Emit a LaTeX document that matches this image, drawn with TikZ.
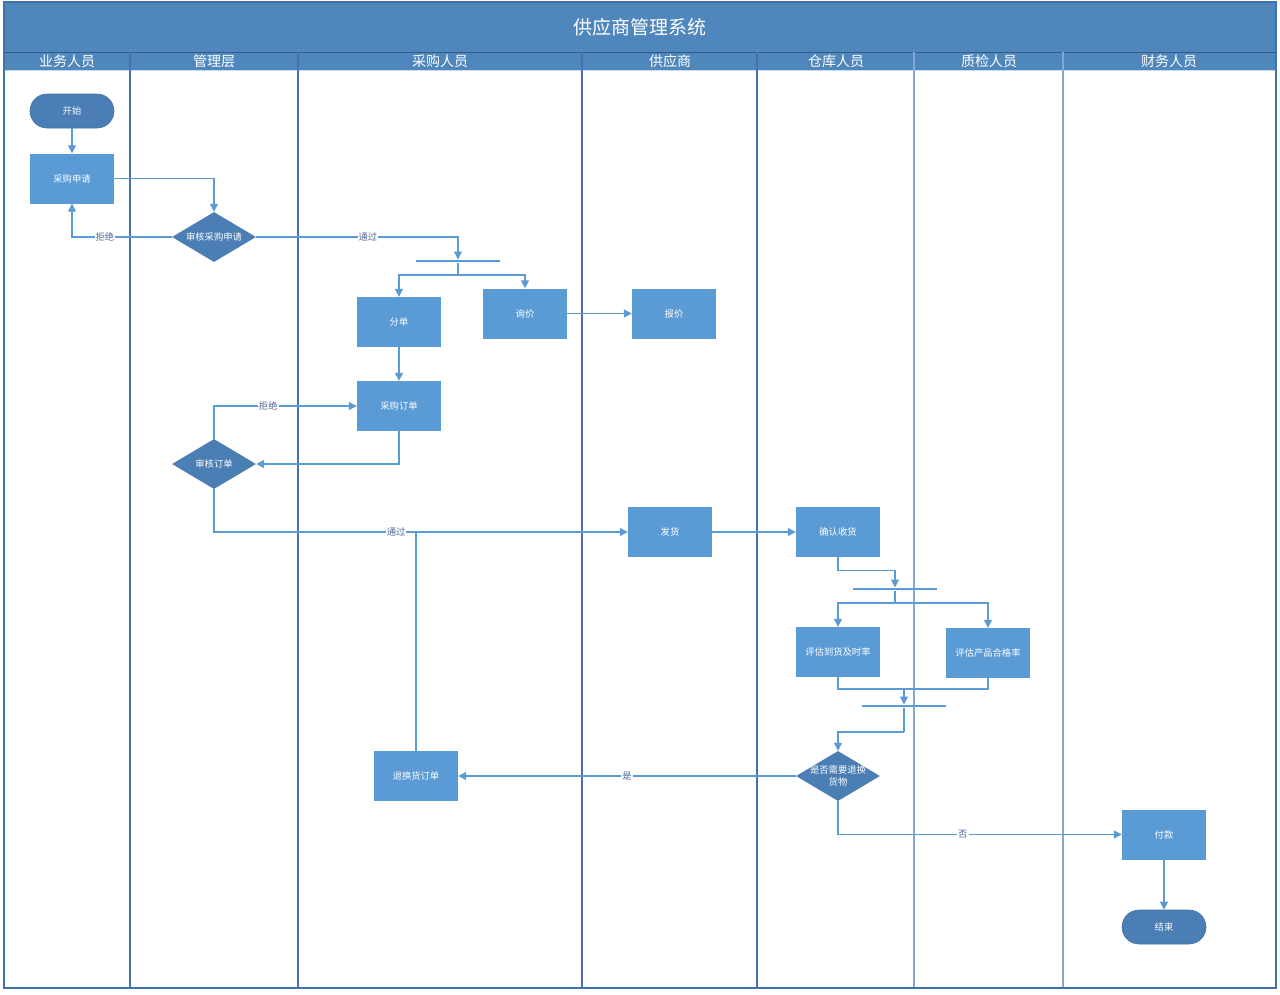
\documentclass[tikz,border=0pt]{standalone}
\usepackage{fontspec}
\newfontfamily\cjk{Noto Sans CJK SC}
\usetikzlibrary{shapes.geometric,arrows.meta}
\definecolor{band}{RGB}{79,135,189}
\definecolor{frame}{RGB}{65,113,170}
\definecolor{sep}{RGB}{68,114,176}
\definecolor{seplight}{RGB}{130,168,212}
\definecolor{boxc}{RGB}{91,155,213}
\definecolor{darkc}{RGB}{74,126,180}
\definecolor{linec}{RGB}{91,155,213}
\definecolor{lblc}{RGB}{80,105,150}
\tikzset{
  every node/.style={font=\cjk},
  procbox/.style={rectangle, fill=boxc, minimum width=84pt, minimum height=50pt, inner sep=0pt, text=white, font=\cjk\fontsize{9.3}{11}\selectfont},
  decbox/.style={diamond, fill=darkc, minimum width=84pt, minimum height=50pt, inner sep=0pt, shape aspect=1.68, text=white, align=center, font=\cjk\fontsize{9.3}{12}\selectfont},
  termbox/.style={rectangle, rounded corners=17pt, fill=darkc, draw=darkc!90!black, line width=0.6pt, minimum width=84pt, minimum height=34pt, inner sep=0pt, text=white, font=\cjk\fontsize{9.3}{11}\selectfont},
  barbox/.style={rectangle, fill=linec, minimum width=84pt, minimum height=2.6pt, inner sep=0pt},
  conn/.style={draw=linec, line width=1.3pt},
  arr/.style={conn, -{Triangle[length=8pt,width=8pt]}},
  lbl/.style={fill=white, inner sep=1pt, text=lblc, font=\cjk\fontsize{9.3}{10}\selectfont},
  hdr/.style={text=white, font=\cjk\fontsize{14}{16}\selectfont, inner sep=0pt},
  lanesep/.style={draw=sep, line width=1.2pt},
}
\begin{document}
\begin{tikzpicture}[x=1pt,y=-1pt]
\useasboundingbox (0,0) rectangle (1280,994);
% bands
\fill[band] (4,2) rectangle (1276,52);
\fill[band] (4,52) rectangle (1276,70);
\draw[draw=frame!80!black, line width=0.8pt] (4,52) -- (1276,52);
\draw[draw=white!70!band, line width=1pt] (4,70) -- (1276,70);
% lane separators
\foreach \x in {130,298,582,757} {\draw[lanesep] (\x,52) -- (\x,988);}
\foreach \x in {914,1063} {\draw[lanesep, draw=seplight, line width=1.5pt] (\x,52) -- (\x,988);}
\draw[draw=frame, line width=1.6pt] (4,2) rectangle (1276,988);
% title and headers
\node[text=white, font=\cjk\fontsize{19}{22}\selectfont, inner sep=0pt] (title) at (640,27) {供应商管理系统};
\node[hdr] (h1) at (67,61) {业务人员};
\node[hdr] (h2) at (214,61) {管理层};
\node[hdr] (h3) at (440,61) {采购人员};
\node[hdr] (h4) at (670,61) {供应商};
\node[hdr] (h5) at (836,61) {仓库人员};
\node[hdr] (h6) at (989,61) {质检人员};
\node[hdr] (h7) at (1169,61) {财务人员};
% nodes
\node[termbox] (start) at (72,111) {开始};
\node[procbox] (sq) at (72,178.5) {采购申请};
\node[decbox] (sh) at (214,237) {审核采购申请};
\node[barbox] (f1) at (458,261) {};
\coordinate (f1b) at (458,275);
\node[procbox] (fd) at (399,322) {分单};
\node[procbox] (xj) at (525,313.5) {询价};
\node[procbox] (bj) at (674,313.5) {报价};
\node[procbox] (cg) at (399,406) {采购订单};
\node[decbox] (sd) at (214,464) {审核订单};
\node[procbox] (fh) at (670,532) {发货};
\node[procbox] (qr) at (838,532) {确认收货};
\node[barbox] (f2) at (895,589) {};
\coordinate (f2b) at (895,603);
\node[procbox] (pg1) at (838,652) {评估到货及时率};
\node[procbox] (pg2) at (988,653) {评估产品合格率};
\coordinate (jl) at (838,689);
\coordinate (jr) at (988,689);
\coordinate (jm) at (904,689);
\node[barbox] (f3) at (904,706) {};
\coordinate (f3c) at (904,732);
\node[decbox, inner sep=-6pt] (sf) at (838,776) {是否需要退换\\货物};
\node[procbox] (th) at (416,776) {退换货订单};
\coordinate (tj) at (416,531);
\node[procbox] (fk) at (1164,834.5) {付款};
\node[termbox] (end) at (1164,927) {结束};
% connectors
\draw[arr] (start) -- (sq);
\draw[arr] (sq.east) -| (sh.north);
\draw[arr] (sh.west) -| node[lbl, pos=0.335] {拒绝} (sq.south);
\draw[arr] (sh.east) -| node[lbl, pos=0.277] {通过} (f1.north);
\draw[conn] (f1.south) -- (f1b);
\draw[arr] (f1b) -| (fd.north);
\draw[arr] (f1b) -| (xj.north);
\draw[arr] (xj) -- (bj);
\draw[arr] (fd) -- (cg);
\draw[arr] (cg.south) |- (sd.east);
\draw[arr] (sd.north) |- node[lbl, pos=0.69] {拒绝} (cg.west);
\draw[arr] (sd.south) |- node[lbl, pos=0.72] {通过} (fh.west);
\draw[arr] (fh) -- (qr);
\draw[arr] (qr.south) -- ++(0,13) -| (f2.north);
\draw[conn] (f2.south) -- (f2b);
\draw[arr] (f2b) -| (pg1.north);
\draw[arr] (f2b) -| (pg2.north);
\draw[conn] (pg1.south) -- (jl) -- (jr) -- (pg2.south);
\draw[arr] (jm) -- (f3.north);
\draw[conn] (f3.south) -- (f3c);
\draw[arr] (f3c) -| (sf.north);
\draw[arr] (sf.west) -- node[lbl, pos=0.5] {是} (th.east);
\draw[conn] (th.north) -- (tj);
\draw[arr] (sf.south) |- node[lbl, pos=0.72] {否} (fk.west);
\draw[arr] (fk) -- (end);
\end{tikzpicture}
\end{document}
